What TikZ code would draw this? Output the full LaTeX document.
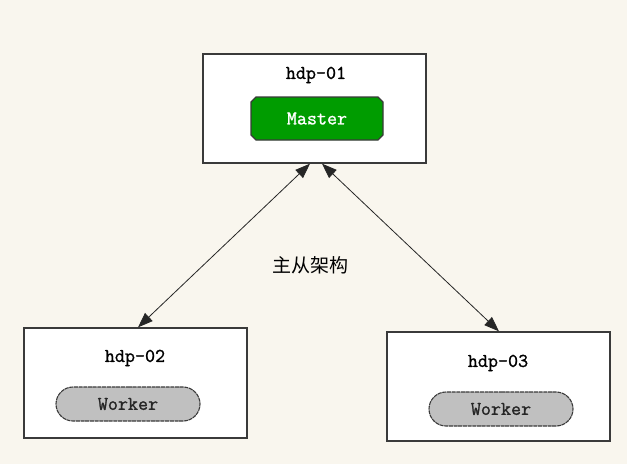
\documentclass[tikz,border=0pt]{standalone}
\usepackage{fontspec}
\newfontfamily\cjk{Noto Sans CJK SC}
\newfontfamily\hmono{Latin Modern Mono}[FakeBold=1.2]
\usetikzlibrary{shapes.misc,arrows.meta,calc}
\definecolor{bg}{HTML}{F9F6EE}
\definecolor{edge}{HTML}{3A3A3A}
\definecolor{mgreen}{HTML}{009C00}
\definecolor{wgray}{HTML}{C0C0C0}
\begin{document}
\begin{tikzpicture}[x=1pt,y=-1pt,
  hostbox/.style={draw=edge,fill=white,line width=1.3pt,minimum width=223pt,minimum height=109pt,inner sep=0pt},
  monotext/.style={font=\hmono\fontsize{19.5}{21}\selectfont},
  hostname/.style={monotext,text=black,inner sep=0pt},
  masterbox/.style={chamfered rectangle,chamfered rectangle xsep=2.5pt,chamfered rectangle ysep=2.5pt,draw=edge,line width=1.1pt,fill=mgreen,text=white,monotext,minimum width=132pt,minimum height=43pt,inner sep=0pt},
  workerbox/.style={rounded rectangle,draw=edge,line width=1.1pt,dash pattern=on 4pt off 0.7pt,fill=wgray,text=black!85,monotext,minimum width=144pt,minimum height=34pt,inner sep=0pt},
  link/.style={draw=black!85,line width=0.8pt,{Triangle[length=15pt,width=11pt]}-{Triangle[length=15pt,width=11pt]}}
]
\fill[bg] (0,0) rectangle (627,464);
\useasboundingbox (0,0) rectangle (627,464);
% hosts
\node[hostbox] (top) at (314.5,108.5) {};
\node[hostbox,minimum height=110pt] (left) at (135.5,383) {};
\node[hostbox] (right) at (498.5,386.5) {};
% names
\node[hostname] (n1) at (316,75) {hdp-01};
\node[hostname] (n2) at (135,358) {hdp-02};
\node[hostname] (n3) at (498,363) {hdp-03};
% roles
\node[masterbox] (master) at (317,118.5) {Master};
\node[workerbox] (w2) at (128,404) {Worker};
\node[workerbox] (w3) at (501,409) {Worker};
% links
\draw[link] ($(top.south)+(-4.5,0)$) -- ($(left.north)+(2.5,0)$);
\draw[link] ($(top.south)+(7.5,0)$) -- ($(right.north)+(0.5,0)$);
% label
\node[font=\cjk\fontsize{19}{21}\selectfont,inner sep=0pt] (lbl) at (310,265) {主从架构};
\end{tikzpicture}
\end{document}
